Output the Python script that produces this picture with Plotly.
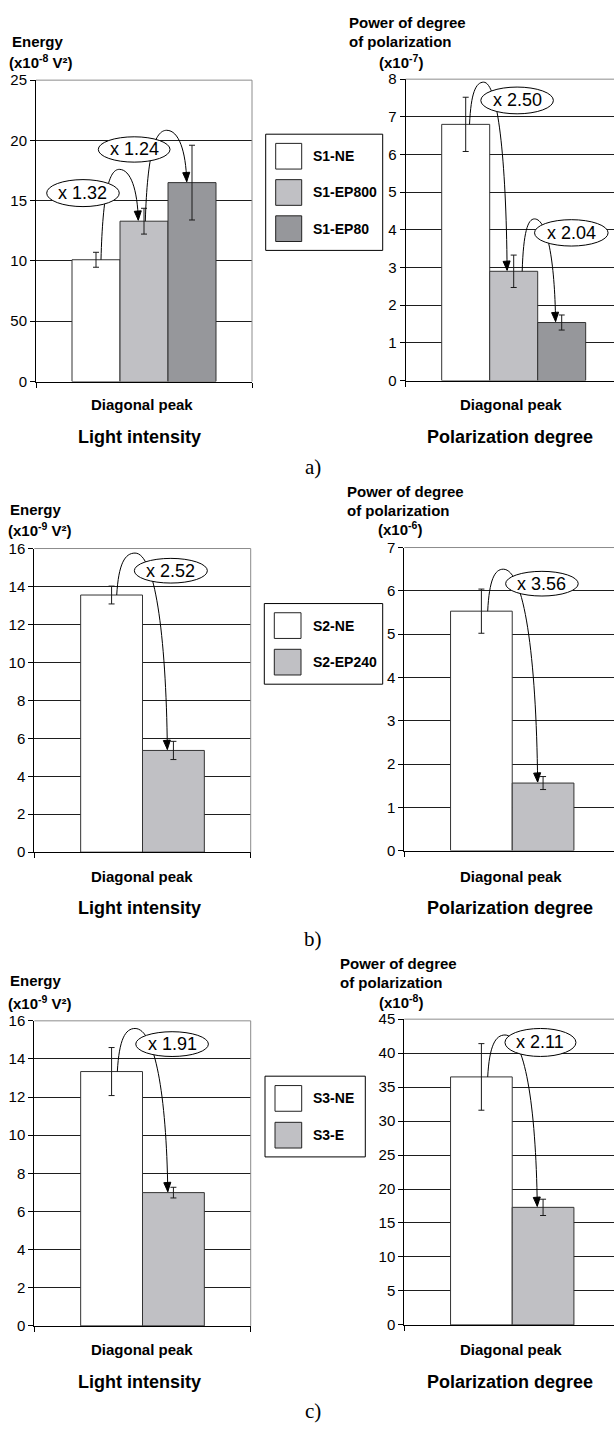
import plotly.graph_objects as go

W, H = 614, 1432
SANS = "Liberation Sans, Arial, Helvetica, sans-serif"
SERIF = "Liberation Serif, Times New Roman, serif"

# ---------------- data ----------------
category = "Diagonal peak"
row_labels = ["a)", "b)", "c)"]
left_titles = ["Light intensity", "Light intensity", "Light intensity"]
right_titles = ["Polarization degree", "Polarization degree", "Polarization degree"]
energy_units = ["(x10<sup>-8</sup> V²)", "(x10<sup>-9</sup> V²)", "(x10<sup>-9</sup> V²)"]
pol_units = ["(x10<sup>-7</sup>)", "(x10<sup>-6</sup>)", "(x10<sup>-8</sup>)"]

a_series = ["S1-NE", "S1-EP800", "S1-EP80"]
a_energy = [10.1, 13.3, 16.5]
a_energy_err = [0.62, 1.07, 3.1]
a_pol = [6.8, 2.9, 1.54]
a_pol_err = [0.72, 0.43, 0.2]
a_energy_ratios = ["x 1.32", "x 1.24"]
a_pol_ratios = ["x 2.50", "x 2.04"]
a_energy_ticks = ["0", "50", "10", "15", "20", "25"]
a_pol_ticks = ["0", "1", "2", "3", "4", "5", "6", "7", "8"]

b_series = ["S2-NE", "S2-EP240"]
b_energy = [13.55, 5.36]
b_energy_err = [0.47, 0.48]
b_pol = [5.53, 1.56]
b_pol_err = [0.51, 0.15]
b_energy_ratios = ["x 2.52"]
b_pol_ratios = ["x 3.56"]
b_energy_ticks = ["0", "2", "4", "6", "8", "10", "12", "14", "16"]
b_pol_ticks = ["0", "1", "2", "3", "4", "5", "6", "7"]

c_series = ["S3-NE", "S3-E"]
c_energy = [13.34, 6.99]
c_energy_err = [1.26, 0.28]
c_pol = [36.5, 17.3]
c_pol_err = [4.9, 1.2]
c_energy_ratios = ["x 1.91"]
c_pol_ratios = ["x 2.11"]
c_energy_ticks = ["0", "2", "4", "6", "8", "10", "12", "14", "16"]
c_pol_ticks = ["0", "5", "10", "15", "20", "25", "30", "35", "40", "45"]

series_colors = ["#ffffff", "#c0c0c4", "#96979b"]

# ---------------- layout helpers ----------------
def PX(x):
    return x / W


def PY(y):
    return 1 - y / H


# panel geometry (pixels) and decoration placement (axis units)
# arrows: (start x, end x, peak (x, y)) in axis units
panels = [
    dict(vals=a_energy, errs=a_energy_err, ticks=a_energy_ticks, step=5, ratios=a_energy_ratios,
         box=(36, 72, 252, 377), xr=[-1.25, 3.25], edge=[-1.25, 3.25], full=True,
         ells=[(-1.027, 0.485, 14.51, 16.75), (0.048, 1.542, 18.2, 20.3)],
         arrows=[(0.104, 0.881, (0.485, 17.6)), (1.027, 1.89, (1.473, 20.84))]),
    dict(vals=a_pol, errs=a_pol_err, ticks=a_pol_ticks, step=1, ratios=a_pol_ratios,
         box=(405.7, 71, 614, 376), xr=[-1.25, 3.09], edge=[-1.25], full=False,
         ells=[(0.315, 1.827, 7.08, 7.79), (1.434, 2.967, 3.57, 4.27)],
         arrows=[(0.08, 0.863, (0.373, 7.92)), (1.177, 1.873, (1.434, 4.29))]),
    dict(vals=b_energy, errs=b_energy_err, ticks=b_energy_ticks, step=2, ratios=b_energy_ratios,
         box=(34.3, 546, 250.7, 853.3), xr=[-1.25, 2.25], edge=[-1.25, 2.25], full=True,
         ells=[(0.368, 1.549, 14.18, 15.48)],
         arrows=[(0.083, 0.902, (0.379, 15.76))]),
    dict(vals=b_pol, errs=b_pol_err, ticks=b_pol_ticks, step=1, ratios=b_pol_ratios,
         box=(404.3, 545, 614, 851.7), xr=[-1.25, 2.15], edge=[-1.25], full=False,
         ells=[(0.393, 1.57, 5.88, 6.45)],
         arrows=[(0.102, 0.912, (0.355, 6.5))]),
    dict(vals=c_energy, errs=c_energy_err, ticks=c_energy_ticks, step=2, ratios=c_energy_ratios,
         box=(34.3, 1024, 250.7, 1332.7), xr=[-1.25, 2.25], edge=[-1.25, 2.25], full=True,
         ells=[(0.391, 1.566, 14.13, 15.43)],
         arrows=[(0.093, 0.909, (0.38, 15.6))]),
    dict(vals=c_pol, errs=c_pol_err, ticks=c_pol_ticks, step=5, ratios=c_pol_ratios,
         box=(404.3, 1022.3, 614, 1331.7), xr=[-1.25, 2.15], edge=[-1.25], full=False,
         ells=[(0.382, 1.533, 39.51, 43.63)],
         arrows=[(0.102, 0.906, (0.382, 42.67))]),
]


def fmt(p):
    return f"{p[0]:.4f},{p[1]:.4f}"


def arrow_path(S, P, E):
    c1 = (S[0] + 0.1 * (P[0] - S[0]), S[1] + 0.75 * (P[1] - S[1]))
    c2 = (P[0] - 0.55 * (P[0] - S[0]), P[1])
    c3 = (P[0] + 0.6 * (E[0] - P[0]), P[1])
    c4 = (E[0] - 0.04 * (E[0] - P[0]), E[1] + 0.6 * (P[1] - E[1]))
    return (f"M{fmt(S)} C{fmt(c1)} {fmt(c2)} {fmt(P)} "
            f"C{fmt(c3)} {fmt(c4)} {fmt(E)}")


fig = go.Figure()
shapes = []
annotations = []

for k, p in enumerate(panels):
    sfx = "" if k == 0 else str(k + 1)
    xa, ya = "x" + sfx, "y" + sfx
    n = len(p["vals"])
    fig.add_trace(go.Bar(
        x=list(range(n)), y=p["vals"], width=1,
        marker=dict(color=series_colors[:n], line=dict(color="#333333", width=1)),
        error_y=dict(type="data", array=p["errs"], visible=True, color="#1a1a1a",
                     thickness=1, width=3),
        xaxis=xa, yaxis=ya, showlegend=False, hoverinfo="skip"))
    x0, y0, x1, y1 = p["box"]
    ymax = p["step"] * (len(p["ticks"]) - 1)
    tickvals = [p["step"] * i for i in range(len(p["ticks"]))]
    fig.update_layout(**{
        "xaxis" + sfx: dict(domain=[PX(x0), PX(x1)], range=p["xr"], anchor=ya,
                            showgrid=False, zeroline=False, showline=True,
                            linecolor="black", linewidth=1, showticklabels=False,
                            ticks="", tickmode="array", tickvals=[],
                            minor=dict(tickmode="array", tickvals=p["edge"], ticks="outside",
                                       ticklen=5, tickcolor="black", tickwidth=1,
                                       showgrid=False),
                            fixedrange=True),
        "yaxis" + sfx: dict(domain=[PY(y1), PY(y0)], range=[0, ymax], anchor=xa,
                            tickmode="array", tickvals=tickvals, ticktext=p["ticks"],
                            showgrid=True, gridcolor="#1e1e1e", gridwidth=1,
                            zeroline=False, showline=True, linecolor="black", linewidth=1,
                            ticks="outside", ticklen=5, tickcolor="black",
                            tickfont=dict(family=SANS, size=15, color="black"),
                            fixedrange=True),
    })
    # plot-area border (grey, top/right)
    shapes.append(dict(type="line", xref=xa + " domain", yref=ya + " domain",
                       x0=0, x1=1, y0=1, y1=1, line=dict(color="#8c8c8c", width=1),
                       layer="above"))
    if p["full"]:
        shapes.append(dict(type="line", xref=xa + " domain", yref=ya + " domain",
                           x0=1, x1=1, y0=0, y1=1, line=dict(color="#8c8c8c", width=1),
                           layer="above"))
    ppu = (y1 - y0) / ymax                      # pixels per y unit
    xpu = (x1 - x0) / (p["xr"][1] - p["xr"][0])  # pixels per x unit
    for i, (xs, xe, peak) in enumerate(p["arrows"]):
        S = (xs, p["vals"][i])
        E = (xe, p["vals"][i + 1] + 1.0 / ppu)
        shapes.append(dict(type="path", xref=xa, yref=ya, path=arrow_path(S, peak, E),
                           line=dict(color="black", width=1), layer="above"))
        # arrowhead: small filled triangle with its tip on the end point
        bl = (E[0] - 4.0 / xpu, E[1] + 9.0 / ppu)
        br = (E[0] + 3.0 / xpu, E[1] + 9.5 / ppu)
        shapes.append(dict(type="path", xref=xa, yref=ya,
                           path=f"M{fmt(E)} L{fmt(bl)} L{fmt(br)} Z",
                           fillcolor="black", line=dict(color="black", width=1), layer="above"))
    for (ex0, ex1, ey0, ey1), txt in zip(p["ells"], p["ratios"]):
        shapes.append(dict(type="circle", xref=xa, yref=ya, x0=ex0, x1=ex1, y0=ey0, y1=ey1,
                           fillcolor="white", line=dict(color="black", width=1), layer="above"))
        annotations.append(dict(x=(ex0 + ex1) / 2, y=(ey0 + ey1) / 2, xref=xa, yref=ya,
                                text=txt, showarrow=False, xanchor="center", yanchor="middle",
                                font=dict(family=SANS, size=18, color="black")))

# titles above axes
energy_title_pos = [(10, 33, 7.3, 53), (8.3, 506.7, 6, 526.7), (8.3, 983.3, 6, 1005)]
pol_title_pos = [(347, 14, 33.3, 377, 52.7), (345, 488.3, 507.3, 376, 526),
                 (338, 966, 985, 377, 1004)]
bold = lambda t: f"<b>{t}</b>"
for r in range(3):
    ex, ey, ux, uy = energy_title_pos[r]
    annotations.append(dict(x=PX(ex), y=PY(ey), xref="paper", yref="paper", text=bold("Energy"),
                            showarrow=False, xanchor="left", yanchor="middle",
                            font=dict(family=SANS, size=15, color="black")))
    annotations.append(dict(x=PX(ux), y=PY(uy), xref="paper", yref="paper",
                            text=bold(energy_units[r]), showarrow=False, xanchor="left",
                            yanchor="middle", font=dict(family=SANS, size=15, color="black")))
    px_, l1, l2, ux2, l3 = pol_title_pos[r]
    for txt, xx, yy in [("Power of degree", px_, l1), ("of polarization", px_, l2),
                        (pol_units[r], ux2, l3)]:
        annotations.append(dict(x=PX(xx), y=PY(yy), xref="paper", yref="paper", text=bold(txt),
                                showarrow=False, xanchor="left", yanchor="middle",
                                font=dict(family=SANS, size=15, color="black")))

# bottom texts
dp_y = [400, 877.5, 1357]
sub_y = [433, 910, 1389]
lab_y = [463, 941, 1419]
for r in range(3):
    for xx, txt, sz, yy in [(141.5, category, 15, dp_y[r]), (511, category, 15, dp_y[r]),
                            (139.5, left_titles[r], 18, sub_y[r]),
                            (510, right_titles[r], 18, sub_y[r])]:
        annotations.append(dict(x=PX(xx), y=PY(yy), xref="paper", yref="paper", text=bold(txt),
                                showarrow=False, xanchor="center", yanchor="middle",
                                font=dict(family=SANS, size=sz, color="black")))
    annotations.append(dict(x=PX(313), y=PY(lab_y[r]), xref="paper", yref="paper",
                            text=row_labels[r], showarrow=False, xanchor="center",
                            yanchor="middle", font=dict(family=SERIF, size=21, color="black")))

# legends
legend_series = [a_series, b_series, c_series]
legend_geo = [
    dict(box=(265.7, 126.7, 382.7, 244.3), sw=(275.7, 301.7), cy=[149, 185.7, 222.3]),
    dict(box=(264.3, 601.7, 382.7, 683.3), sw=(274.3, 301), cy=[624, 661]),
    dict(box=(265, 1080, 365.3, 1161.7), sw=(275, 301.7), cy=[1102.5, 1139.7]),
]
for names, g in zip(legend_series, legend_geo):
    bx0, by0, bx1, by1 = g["box"]
    shapes.append(dict(type="rect", xref="paper", yref="paper", x0=PX(bx0), x1=PX(bx1),
                       y0=PY(by1), y1=PY(by0), line=dict(color="black", width=1),
                       fillcolor="white", layer="above"))
    for name, col, cy in zip(names, series_colors, g["cy"]):
        shapes.append(dict(type="rect", xref="paper", yref="paper", x0=PX(g["sw"][0]),
                           x1=PX(g["sw"][1]), y0=PY(cy + 13), y1=PY(cy - 13),
                           line=dict(color="#222222", width=1), fillcolor=col, layer="above"))
        annotations.append(dict(x=PX(310.7), y=PY(cy), xref="paper", yref="paper",
                                text=bold(name), showarrow=False, xanchor="left",
                                yanchor="middle", font=dict(family=SANS, size=14, color="black")))

fig.update_layout(width=W, height=H, margin=dict(l=0, r=0, t=0, b=0),
                  paper_bgcolor="white", plot_bgcolor="white", barmode="overlay",
                  showlegend=False, shapes=shapes, annotations=annotations,
                  font=dict(family=SANS, color="black"))

fig.write_html("out.html", config={"displayModeBar": False},
               post_script="document.body.style.margin='0';document.body.style.overflow='hidden';")
